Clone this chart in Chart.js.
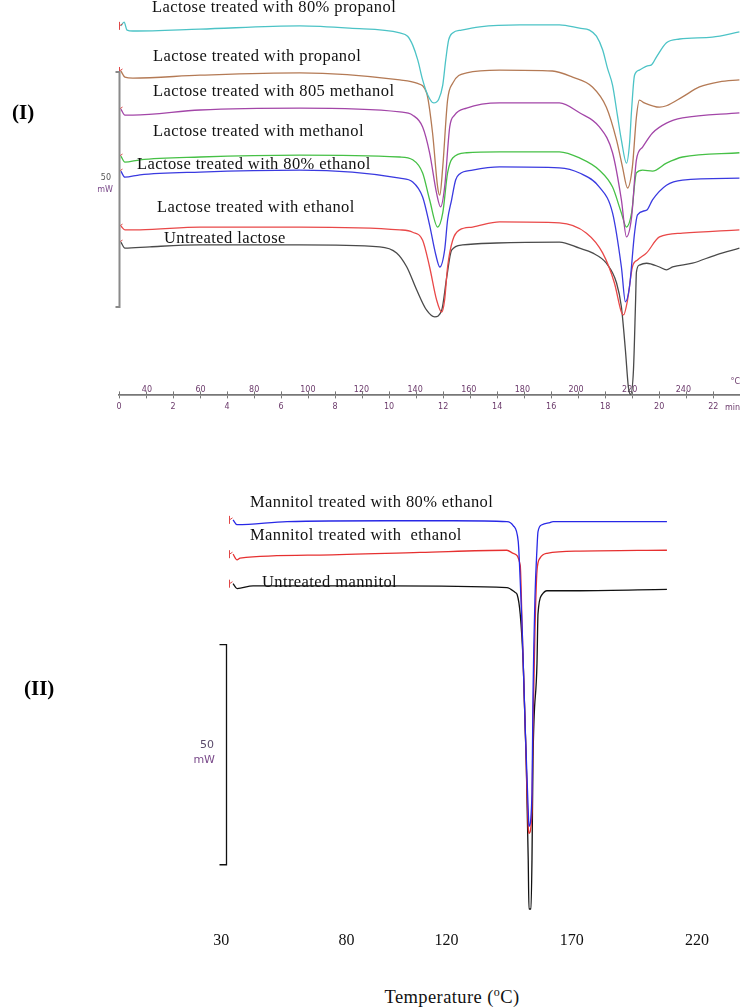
<!DOCTYPE html>
<html>
<head>
<meta charset="utf-8">
<script src="https://cdn.jsdelivr.net/npm/chart.js@4.4.1/dist/chart.umd.min.js"></script>
<style>
  body { margin: 0; background: #fff; }
  #page { position: relative; width: 740px; height: 1007px; overflow: hidden; }
  canvas { position: absolute; left: 0; }
  .lbl { position: absolute; font-family: "Liberation Serif", serif; font-size: 16.5px; letter-spacing: 0.4px; line-height: 20px; color: #111; white-space: pre; }
  .panel { position: absolute; font-family: "Liberation Serif", serif; font-weight: bold; font-size: 21px; line-height: 24px; color: #000; }
  .unit { position: absolute; font-family: "DejaVu Sans", sans-serif; line-height: 12px; text-align: right; }
</style>
</head>
<body>
<div id="page">
  <canvas id="lactoseChart" width="740" height="416" style="top:0"></canvas>
  <canvas id="mannitolChart" width="740" height="495" style="top:460px"></canvas>

  <div class="panel" style="left:12px; top:100px">(I)</div>
  <div class="panel" style="left:24px; top:676px">(II)</div>

  <div class="lbl" style="left:152px; top:-3px">Lactose treated with 80% propanol</div>
  <div class="lbl" style="left:153px; top:46px">Lactose treated with propanol</div>
  <div class="lbl" style="left:153px; top:81px">Lactose treated with 805 methanol</div>
  <div class="lbl" style="left:153px; top:121px">Lactose treated with methanol</div>
  <div class="lbl" style="left:137px; top:154px">Lactose treated with 80% ethanol</div>
  <div class="lbl" style="left:157px; top:197px">Lactose treated with ethanol</div>
  <div class="lbl" style="left:164px; top:228px">Untreated lactose</div>

  <div class="lbl" style="left:250px; top:492px">Mannitol treated with 80% ethanol</div>
  <div class="lbl" style="left:250px; top:525px">Mannitol treated with  ethanol</div>
  <div class="lbl" style="left:262px; top:572px">Untreated mannitol</div>

  <div class="unit" style="left:80px; width:31px; top:172px; font-size:8px; color:#555">50</div>
  <div class="unit" style="left:80px; width:33px; top:184px; font-size:8px; color:#7a4a8a">mW</div>
  <div class="unit" style="left:720px; width:20px; top:376px; font-size:8px; color:#6b3a6b">°C</div>
  <div class="unit" style="left:710px; width:30px; top:402px; font-size:8px; color:#6b3a6b">min</div>

  <div class="unit" style="left:170px; width:44px; top:739px; font-size:11px; color:#5a4a6a">50</div>
  <div class="unit" style="left:170px; width:45px; top:754px; font-size:11px; color:#7a4a8a">mW</div>

  <div class="lbl" style="left:300px; width:304px; top:980px; line-height:24px; text-align:center; font-size:18.5px">Temperature (<sup style="font-size:12px">o</sup>C)</div>
</div>

<script>
// (I) lactose, [temperature °C, heat flow mW (offset)]
const lactoseNames = ['Lactose treated with 80% propanol', 'Lactose treated with propanol', 'Lactose treated with 805 methanol',
  'Lactose treated with methanol', 'Lactose treated with 80% ethanol', 'Lactose treated with ethanol', 'Untreated lactose'];

const lac80Propanol = [[30.3,79.6],[31.5,80.4],[32.6,78.7],[34.8,78.5],[59.8,78.9],[97.0,79.6],[115.6,79.1],[134.3,78.1],
  [137.2,77.4],[139.1,75.5],[141.0,72.3],[142.8,68.1],[144.7,64.9],[146.9,63.2],[148.8,64.0],[150.3,67.0],[151.4,72.3],
  [152.5,76.6],[154.0,78.1],[157.3,78.7],[164.1,79.4],[179.0,79.8],[193.8,79.8],[201.3,79.1],[205.0,78.7],[207.6,77.4],
  [209.9,74.5],[211.7,70.6],[213.6,67.0],[215.4,60.6],[216.9,55.3],[218.8,50.4],[219.9,54.3],[220.7,61.7],[221.8,69.1],
  [223.6,70.2],[226.6,71.1],[228.1,71.3],[230.0,73.0],[233.7,76.0],[238.6,76.8],[250.8,77.2],[260.9,78.3]];

const lacPropanol = [[30.3,70.0],[31.8,68.7],[34.8,68.5],[59.8,69.1],[97.0,69.6],[134.3,68.1],[140.6,67.4],[144.3,65.3],
  [146.5,56.8],[148.4,45.3],[149.2,43.6],[150.3,49.6],[152.1,63.8],[154.0,67.4],[159.2,69.6],[171.5,70.2],[191.2,70.0],
  [198.7,68.7],[206.1,66.6],[211.3,62.3],[215.1,55.3],[217.3,49.6],[219.2,45.1],[221.0,49.6],[222.5,60.2],[223.6,63.8],
  [225.5,63.2],[231.1,62.3],[233.7,62.6],[239.7,64.5],[246.0,66.6],[253.4,67.7],[260.9,68.1]];

const lac80Methanol = [[30.3,61.9],[31.8,60.6],[34.8,60.6],[59.8,61.7],[97.0,62.1],[134.3,61.3],[139.1,60.6],[142.8,58.1],
  [145.4,52.6],[148.0,44.0],[149.5,41.1],[151.0,45.3],[152.9,58.1],[154.7,60.6],[159.2,62.1],[171.5,63.2],[193.8,63.2],
  [201.3,61.1],[208.7,58.1],[213.6,52.6],[216.9,42.6],[218.8,34.7],[220.7,38.9],[222.5,51.1],[224.8,53.8],[228.5,56.8],
  [233.7,58.9],[239.7,60.0],[260.9,61.1]];

const lacMethanol = [[30.3,51.9],[31.8,50.6],[37.4,51.1],[59.8,51.7],[97.0,52.1],[134.3,51.7],[139.1,51.1],[142.8,48.3],
  [145.4,42.6],[148.4,36.8],[150.3,39.8],[152.1,48.3],[154.0,51.5],[159.2,52.6],[171.5,52.8],[193.8,52.8],[201.3,51.5],
  [208.7,48.9],[213.6,45.3],[216.9,39.8],[218.8,36.8],[220.7,39.8],[222.5,48.3],[224.8,48.9],[228.5,48.7],[233.7,50.4],
  [239.7,51.7],[260.9,52.6]];

const lac80Ethanol = [[30.3,48.7],[31.8,47.4],[37.4,47.9],[59.8,48.5],[97.0,48.9],[134.3,47.2],[139.1,46.4],[142.8,43.2],
  [145.4,37.2],[147.7,30.9],[149.2,28.3],[151.0,31.9],[152.1,38.3],[153.6,42.6],[155.1,46.8],[156.6,48.1],[161.4,48.9],
  [171.5,49.6],[193.8,49.4],[201.3,48.3],[208.7,45.3],[213.6,39.8],[216.9,28.3],[218.4,20.9],[219.9,24.0],[221.8,35.5],
  [222.9,39.4],[226.3,40.4],[228.5,42.6],[233.7,45.7],[239.7,46.8],[260.9,47.2]];

const lacEthanol = [[30.3,37.0],[31.8,36.2],[37.4,36.2],[59.8,36.8],[97.0,36.8],[134.3,36.2],[139.1,35.7],[142.8,34.0],
  [145.4,28.3],[148.0,21.3],[149.9,18.7],[151.0,21.3],[152.1,28.3],[154.0,34.0],[156.6,36.2],[161.4,36.8],[171.5,37.9],
  [193.8,37.7],[203.9,35.5],[209.9,31.3],[214.3,24.9],[216.9,18.7],[217.7,18.1],[219.2,21.3],[221.0,28.3],[222.9,29.8],
  [226.3,31.3],[231.1,34.7],[239.7,35.5],[260.9,36.2]];

const lacUntreated = [[30.3,33.6],[31.8,32.3],[41.1,32.6],[59.8,33.0],[97.0,33.0],[126.8,32.6],[133.1,31.3],[136.9,28.3],
  [140.6,23.4],[144.3,19.1],[147.3,17.7],[149.9,19.1],[151.8,26.2],[153.6,31.9],[157.7,33.0],[170.4,33.4],[193.8,33.6],
  [201.3,32.3],[206.1,31.3],[211.3,29.1],[215.1,24.9],[216.9,19.8],[218.4,10.6],[219.5,2.8],[220.3,1.2],[221.4,6.4],
  [222.2,21.3],[222.5,27.2],[223.6,28.7],[226.3,29.1],[231.1,28.3],[233.7,27.7],[236.0,28.3],[243.4,29.1],[252.3,30.9],
  [260.9,32.3]];

const lactoseSeries = [lac80Propanol, lacPropanol, lac80Methanol, lacMethanol, lac80Ethanol, lacEthanol, lacUntreated];
const lactoseColors = ['#4cc3c6', '#b47a55', '#a346a8', '#46c046', '#3a3ae0', '#e94848', '#4a4a4a'];

// (II) mannitol
const mannitolNames = ['Mannitol treated with 80% ethanol', 'Mannitol treated with  ethanol', 'Untreated mannitol'];

const man80Ethanol = [[34.7,90.4],[36.3,89.3],[56.3,90.0],[96.2,90.2],[122.6,90.2],[144.1,90.0],[146.6,89.1],[148.6,85.5],
  [149.4,76.6],[150.2,65.4],[151.4,43.1],[152.6,24.3],[152.9,20.8],[154.1,28.1],[154.5,50.4],[155.3,72.8],[156.1,83.9],
  [156.5,87.7],[158.1,89.3],[161.3,89.8],[162.5,90.0],[208.0,90.0]];

const manEthanol = [[34.7,82.6],[36.3,81.3],[37.5,81.7],[69.4,82.4],[109.4,83.0],[144.1,83.5],[146.6,82.8],[149.4,80.1],
  [150.2,65.4],[151.4,43.1],[152.6,20.8],[152.9,19.2],[154.1,24.3],[154.5,43.1],[155.3,65.4],[156.1,78.8],[157.3,81.7],
  [160.1,82.8],[173.3,83.3],[208.0,83.5]];

const manUntreated = [[34.7,75.9],[36.3,74.8],[42.7,75.4],[96.2,75.4],[144.1,75.0],[147.4,73.9],[148.2,73.4],[149.4,69.0],
  [150.6,57.8],[151.8,35.5],[152.6,13.2],[152.9,2.0],[153.7,2.0],[154.1,13.2],[154.5,35.5],[156.1,57.8],[156.5,69.0],
  [158.1,73.4],[160.1,74.3],[173.3,74.3],[208.0,74.6]];

const mannitolSeries = [man80Ethanol, manEthanol, manUntreated];
const mannitolColors = ['#2828e6', '#e63030', '#111111'];
const mannitolTicks = [30, 80, 120, 170, 220];

// instrument axis: 0 min = 29.6 °C, 10.07 °C/min
const startTemp = 29.6;
const heatRate = 10.07;

// red start marks, the 50 mW scale bar, tick marks crossing the time axis
const decorations = {
  id: 'decorations',
  afterDatasetsDraw(chart, args, opts) {
    const ctx = chart.ctx, x = chart.scales.x, y = chart.scales.y;
    ctx.save();
    ctx.strokeStyle = '#e04848';
    ctx.lineWidth = 1;
    chart.data.datasets.forEach(ds => {
      const p = ds.data[0];
      const px = Math.round(x.getPixelForValue(p.x) - opts.markGap) + 0.5;
      const py = y.getPixelForValue(p.y);
      ctx.beginPath();
      ctx.moveTo(px, py - 4); ctx.lineTo(px, py + 4);
      ctx.moveTo(px, py); ctx.lineTo(px + 3, py - 2);
      ctx.stroke();
    });
    const bx = Math.round(x.getPixelForValue(opts.barAt)) + 0.5;
    const b0 = y.getPixelForValue(opts.barLow);
    const b1 = y.getPixelForValue(opts.barLow + 50);
    ctx.strokeStyle = opts.barColor;
    ctx.lineWidth = opts.barWidth;
    ctx.beginPath();
    ctx.moveTo(bx - opts.barTick, b1); ctx.lineTo(bx, b1);
    ctx.lineTo(bx, b0); ctx.lineTo(bx - opts.barTick, b0);
    ctx.stroke();
    const t = opts.crossScale && chart.scales[opts.crossScale];
    if (t) {
      ctx.strokeStyle = '#777';
      ctx.lineWidth = 1;
      ctx.beginPath();
      t.ticks.forEach(tk => {
        const px = Math.round(t.getPixelForValue(tk.value)) + 0.5;
        ctx.moveTo(px, t.top - 3); ctx.lineTo(px, t.top);
      });
      ctx.stroke();
    }
    ctx.restore();
  }
};

const smallFont = { family: 'DejaVu Sans', size: 8 };
const axisColor = '#6b3a6b';

new Chart(document.getElementById('lactoseChart'), {
  type: 'line',
  data: {
    datasets: lactoseSeries.map((s, i) => ({
      label: lactoseNames[i],
      data: s.map(p => ({ x: p[0], y: p[1] })),
      borderColor: lactoseColors[i],
      borderWidth: 1.3,
      pointRadius: 0,
      cubicInterpolationMode: 'monotone',
      clip: false,
      xAxisID: 'x',
      yAxisID: 'y'
    }))
  },
  options: {
    responsive: false,
    animation: false,
    layout: { padding: { left: 119, right: 0, top: 0, bottom: 0 } },
    plugins: {
      legend: { display: false },
      tooltip: { enabled: false },
      decorations: { markGap: 2, barAt: startTemp, barLow: 19.8, barColor: '#8a8a8a', barWidth: 2, barTick: 4, crossScale: 'xMin' }
    },
    scales: {
      x: {
        type: 'linear', position: 'bottom', weight: 0,
        min: startTemp, max: 260.9,
        grid: { display: false }, border: { display: false },
        ticks: {
          stepSize: 20, includeBounds: false, autoSkip: false, maxRotation: 0, padding: 3,
          font: smallFont, color: axisColor,
          callback: v => (v <= 240 ? v : '')
        },
        afterFit: s => { s.height = 20; }
      },
      xMin: {
        type: 'linear', position: 'bottom', weight: 1,
        min: 0, max: (260.9 - startTemp) / heatRate,
        grid: { display: true, drawOnChartArea: false, drawTicks: true, tickLength: 4, color: '#777' },
        border: { display: true, color: '#777', width: 1.8 },
        ticks: {
          stepSize: 1, includeBounds: false, autoSkip: false, maxRotation: 0, padding: 4,
          font: smallFont, color: axisColor,
          callback: v => (v % 2 === 0 ? v : '')
        }
      },
      y: { display: false, min: 5.45, max: 85.1 }
    }
  },
  plugins: [decorations]
});

new Chart(document.getElementById('mannitolChart'), {
  type: 'line',
  data: {
    datasets: mannitolSeries.map((s, i) => ({
      label: mannitolNames[i],
      data: s.map(p => ({ x: p[0], y: p[1] })),
      borderColor: mannitolColors[i],
      borderWidth: 1.3,
      pointRadius: 0,
      cubicInterpolationMode: 'monotone',
      clip: false
    }))
  },
  options: {
    responsive: false,
    animation: false,
    layout: { padding: { left: 200, right: 20, top: 0, bottom: 0 } },
    plugins: {
      legend: { display: false },
      tooltip: { enabled: false },
      decorations: { markGap: 4, barAt: 31.9, barLow: 12.05, barColor: '#111', barWidth: 1.3, barTick: 7 }
    },
    scales: {
      x: {
        type: 'linear', min: 21.5, max: 229.2,
        grid: { display: false }, border: { display: false },
        afterBuildTicks: s => { s.ticks = mannitolTicks.map(v => ({ value: v })); },
        ticks: {
          autoSkip: false, maxRotation: 0, padding: 5,
          font: { family: 'Liberation Serif', size: 16 }, color: '#111'
        }
      },
      y: { display: false, min: 0, max: 104.0 }
    }
  },
  plugins: [decorations]
});
</script>
</body>
</html>
